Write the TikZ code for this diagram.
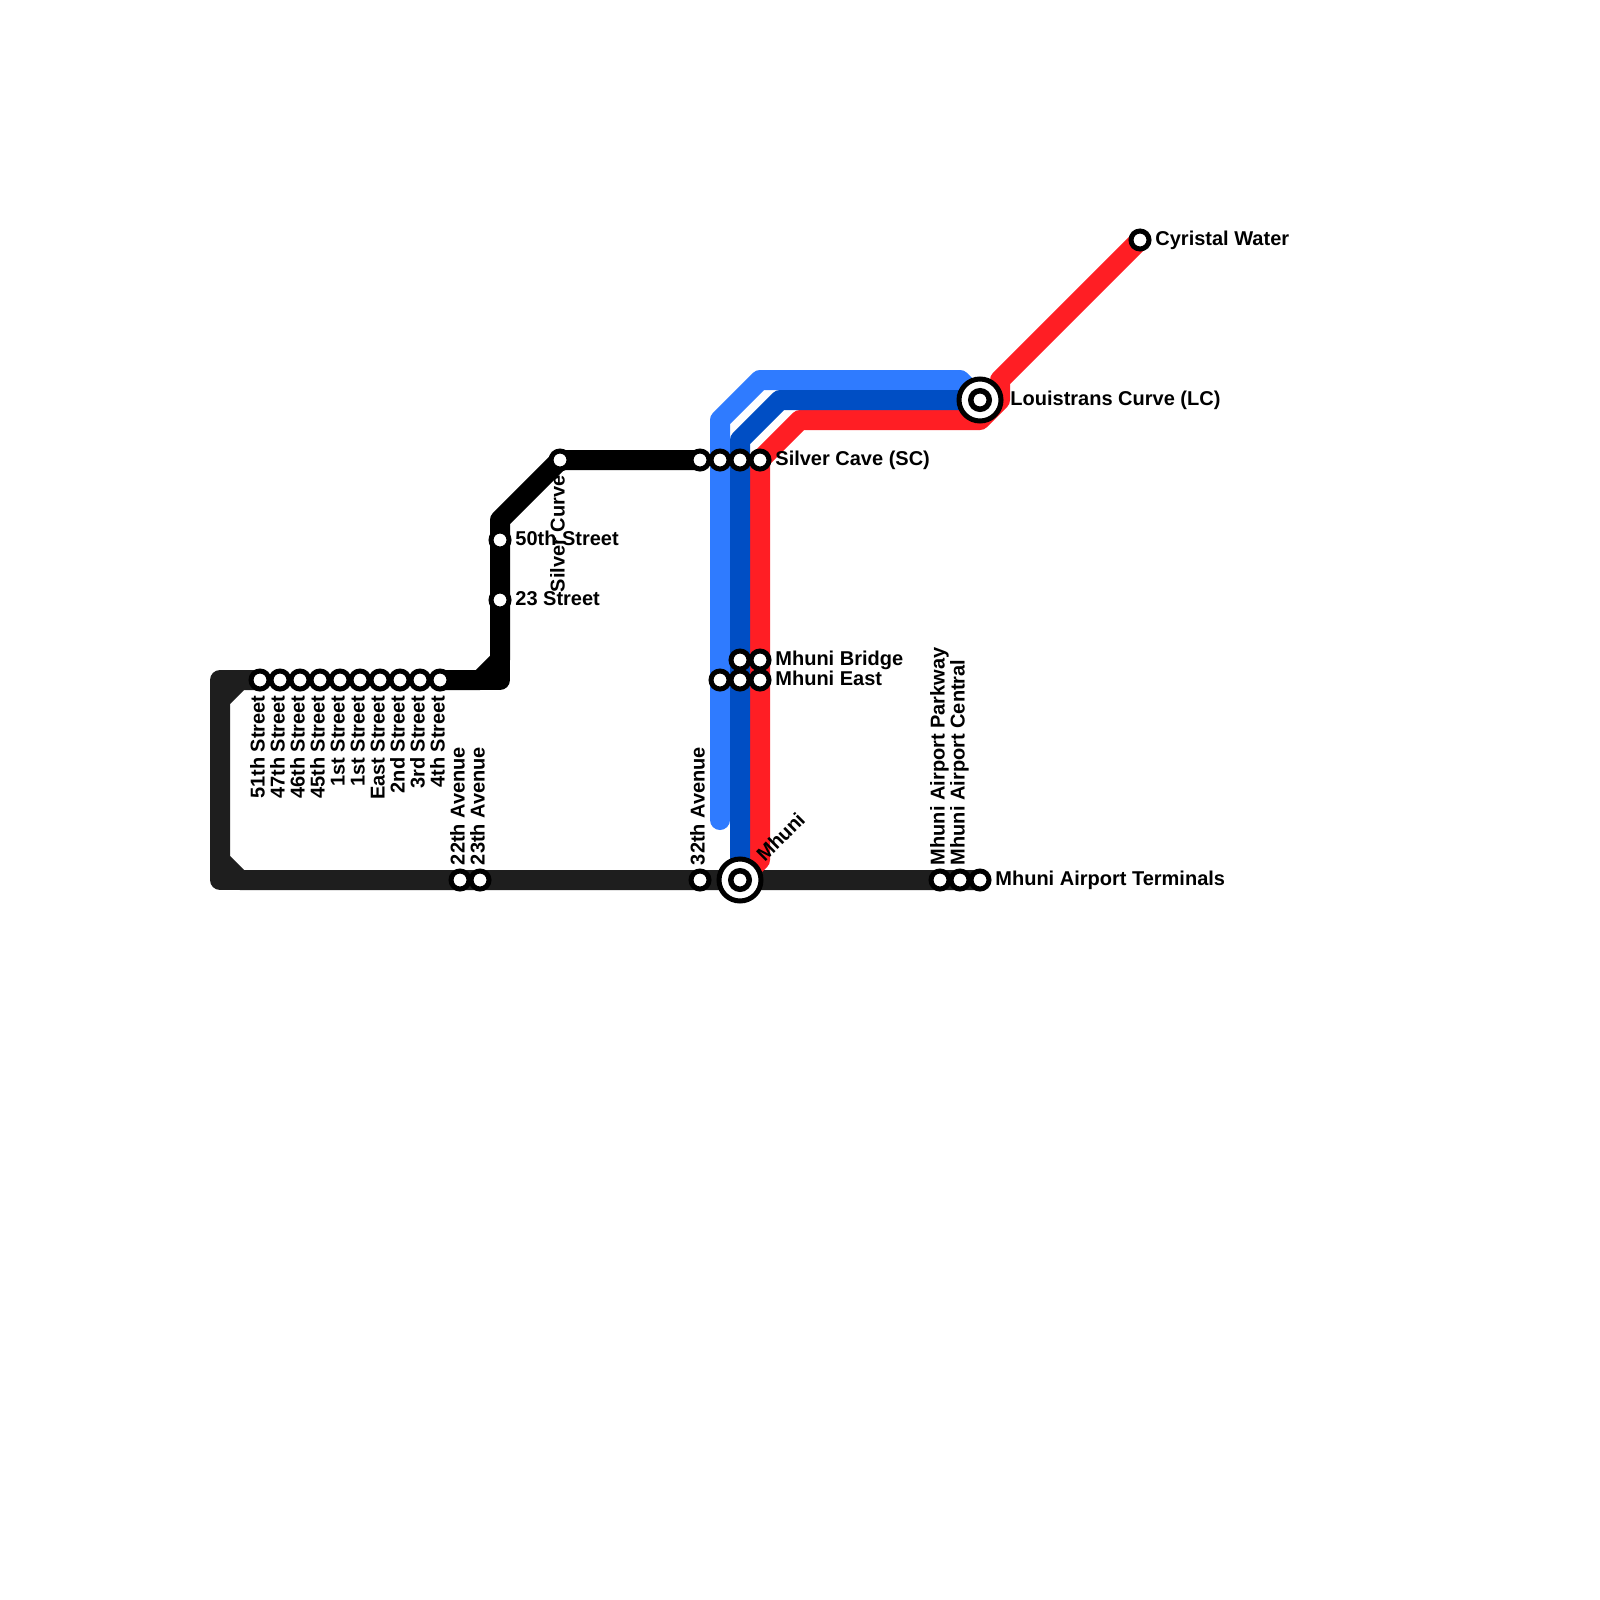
\documentclass[tikz,border=0pt]{standalone}
\usepackage{fontspec}
\setmainfont{Liberation Sans}
\definecolor{lblue}{RGB}{47,123,255}
\definecolor{dblue}{RGB}{0,78,196}
\definecolor{lred}{RGB}{255,30,36}
\definecolor{dgrey}{RGB}{30,30,30}
\tikzset{
  metro/.style={line width=10pt,line join=round,line cap=round},
  plain/.style={circle,fill=white,draw=black,line width=2.5pt,minimum size=9pt,inner sep=0pt,outer sep=0pt},
  hub/.style={circle,fill=white,draw=black,line width=2.5pt,minimum size=21pt,inner sep=0pt,outer sep=0pt},
  hubcore/.style={circle,fill=white,draw=black,line width=2.75pt,minimum size=9.25pt,inner sep=0pt,outer sep=0pt},
  lab/.style={font=\fontsize{10}{12}\selectfont\bfseries,inner sep=0pt,text=black},
  up/.style={lab,rotate=90,anchor=base west},
  down/.style={lab,rotate=90,anchor=base east},
  side/.style={lab,anchor=base west},
}
\begin{document}
\begin{tikzpicture}[x=0.5pt,y=-0.5pt]
\useasboundingbox (0,0) rectangle (1600,1600);
\fill[white] (0,0) rectangle (1600,1600);
% station positions
\foreach \n/\x/\y in {s51/260/680,s47/280/680,s46/300/680,s45/320/680,sa/340/680,sb/360/680,sE/380/680,s2/400/680,s3/420/680,s4/440/680,
  a22/460/880,a23/480/880,a32/700/880,mh/740/880,ap/940/880,ac/960/880,at/980/880,
  st50/500/540,st23/500/600,sc/560/460,c1/700/460,c2/720/460,c3/740/460,c4/760/460,
  mb1/740/660,mb2/760/660,me1/720/680,me2/740/680,me3/760/680,lc/980/400,cw/1140/240}
  \coordinate (\n) at (\x,\y);
% bends
\foreach \n/\x/\y in {g1/240/680,g2/220/680,g3/220/700,g4/220/860,g5/220/880,g6/240/880,
  k1/480/680,k2/500/660,k3/500/680,k4/500/520,
  l1/720/820,l2/720/420,l3/760/380,l4/960/380,
  d1/740/440,d2/780/400,
  r1/1000/380,r2/1000/400,r3/980/420,r4/800/420,r5/760/460,r6/760/860}
  \coordinate (\n) at (\x,\y);
% lines
\draw[metro,dgrey] (s51) -- (g1) -- (g3) -- (g4) -- (g6) -- (at);
\draw[metro,dgrey] (g1) -- (g2) -- (g5) -- (g6);
\draw[metro,black] (s4) -- (k1) -- (k2) -- (k4) -- (sc) -- (c1);
\draw[metro,black] (k1) -- (k3) -- (k2);
\draw[metro,lblue] (l1) -- (l2) -- (l3) -- (l4) -- (lc);
\draw[metro,lred] (cw) -- (r1) -- (r2) -- (r3) -- (r4) -- (r5) -- (r6) -- (mh);
\draw[metro,dblue] (mh) -- (d1) -- (d2) -- (lc);
% stations
\foreach \n in {s51,s47,s46,s45,sa,sb,sE,s2,s3,s4,a22,a23,a32,ap,ac,at,st50,st23,sc,c1,c2,c3,c4,mb1,mb2,me1,me2,me3,cw}
  \node[plain] (n\n) at (\n) {};
\node[hub] (nmh) at (mh) {};
\node[hubcore] (nmhc) at (mh) {};
\node[hub] (nlc) at (lc) {};
\node[hubcore] (nlcc) at (lc) {};
% labels
\foreach \n/\t in {s51/51th Street,s47/47th Street,s46/46th Street,s45/45th Street,sa/1st Street,sb/1st Street,sE/East Street,s2/2nd Street,s3/3rd Street,s4/4th Street,sc/Silver Curve}
  \node[down] at ([shift={(4.5,15)}]\n) {\t};
\foreach \n/\t in {a22/22th Avenue,a23/23th Avenue,a32/32th Avenue,ap/Mhuni Airport Parkway,ac/Mhuni Airport Central}
  \node[up] at ([shift={(4.5,-14.5)}]\n) {\t};
\node[lab,rotate=45,anchor=base west] at ([shift={(24.5,-17)}]mh) {Mhuni};
\foreach \n/\t in {st50/50th Street,st23/23 Street,c4/Silver Cave (SC),mb2/Mhuni Bridge,me3/Mhuni East,at/Mhuni Airport Terminals,cw/Cyristal Water}
  \node[side] at ([shift={(15,5)}]\n) {\t};
\node[side] at ([shift={(30,5)}]lc) {Louistrans Curve (LC)};
\end{tikzpicture}
\end{document}
